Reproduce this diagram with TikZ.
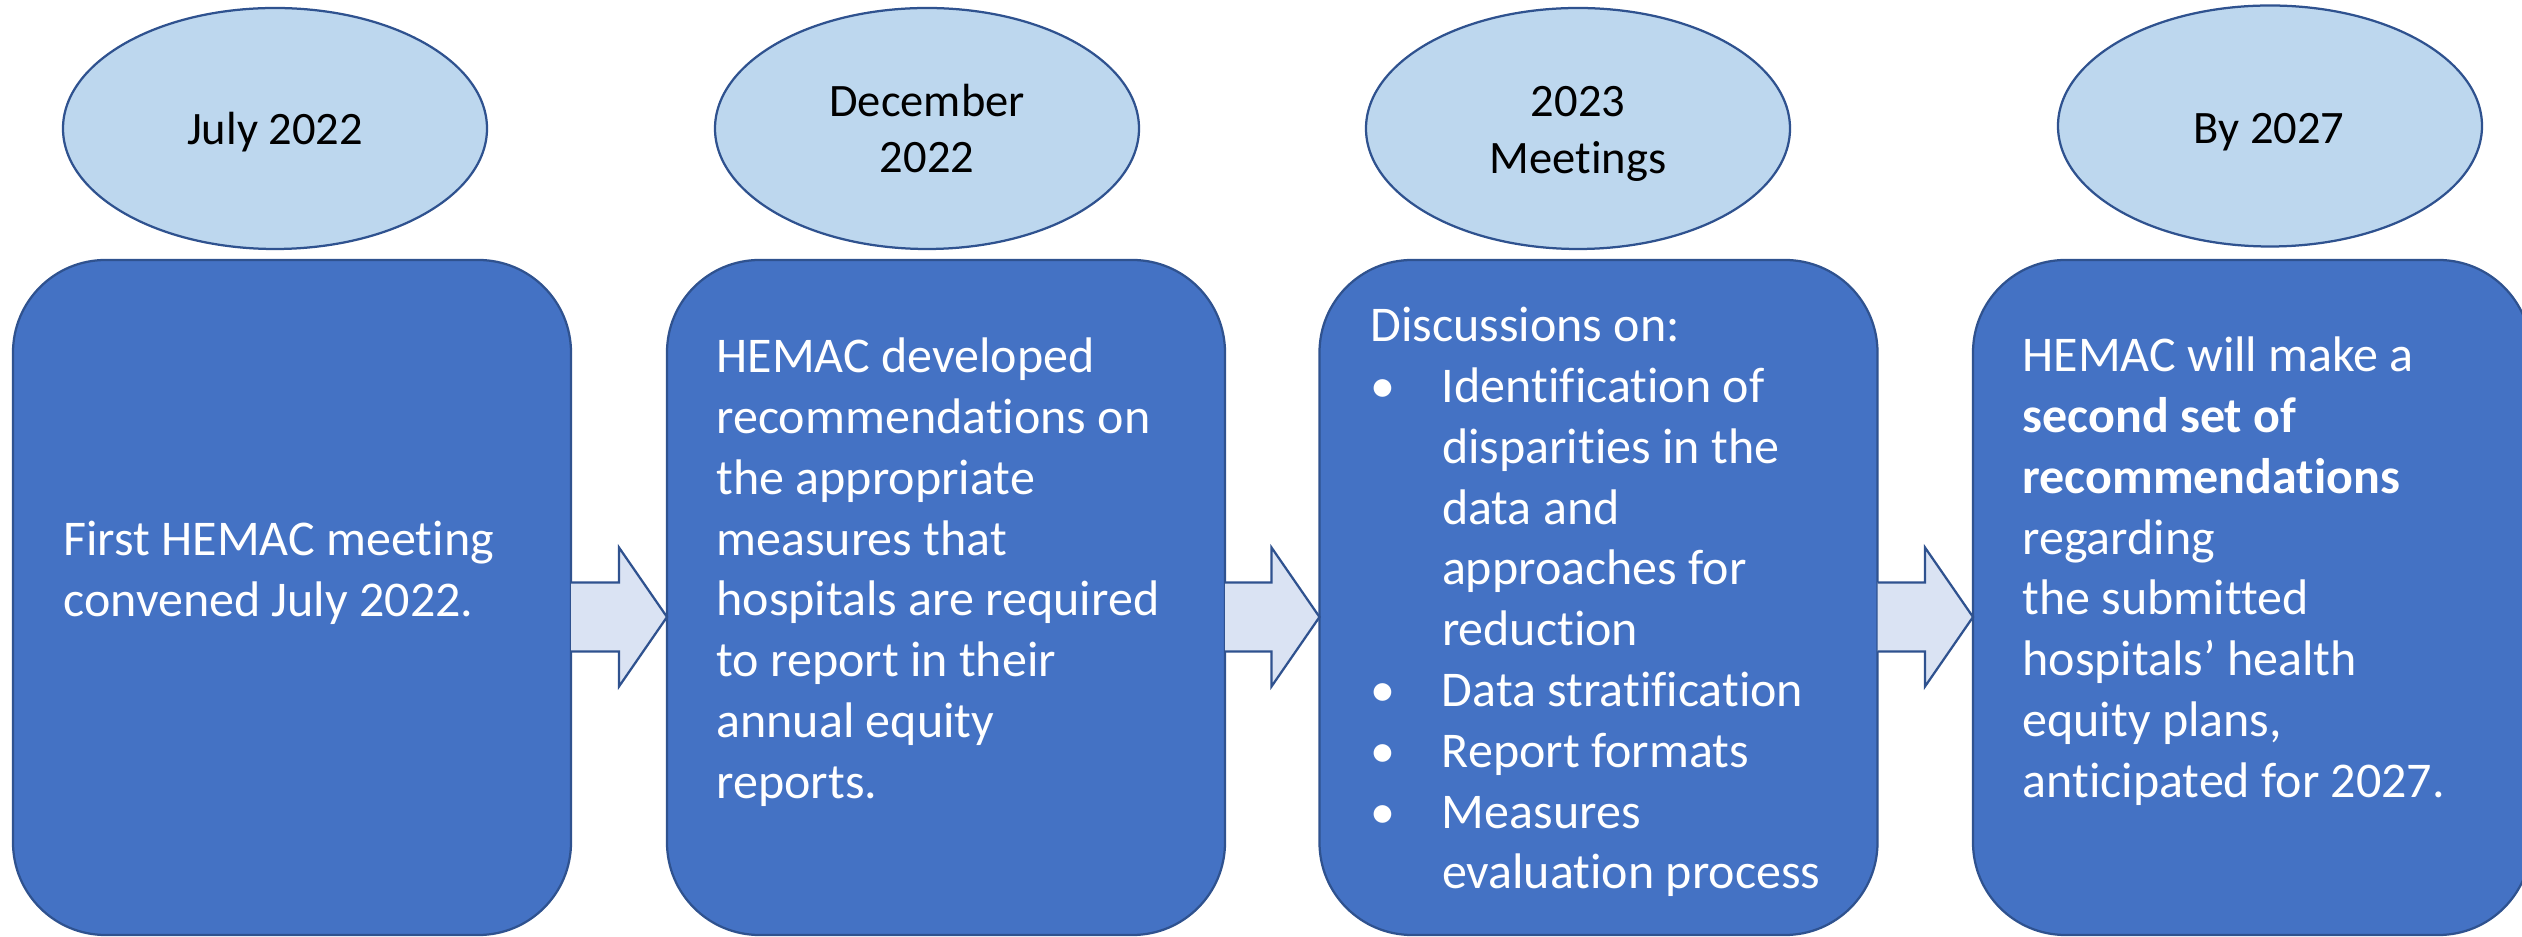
\documentclass[tikz,border=0pt]{standalone}
\usepackage{fontspec}
\setmainfont{Carlito}[Ligatures=NoCommon]
\usetikzlibrary{shapes.geometric,calc}
\definecolor{boxfill}{HTML}{4472C4}
\definecolor{edgeblue}{HTML}{2F528F}
\definecolor{ovalfill}{HTML}{BDD7EE}
\definecolor{arrowfill}{HTML}{DAE3F3}
\newcommand{\bodyfont}{\fontsize{20pt}{24.3pt}\selectfont}
\newcommand{\datefont}{\fontsize{18.6pt}{22.6pt}\selectfont}
\newcommand{\bul}{\makebox[28.6pt][l]{\textbullet}}
\newcommand{\ind}{\hspace*{28.6pt}}
% block arrow from the east side of box #1 to the west side of box #2
\newcommand{\flowarrow}[2]{%
  \fill[flow] ($(#1.east)+(0,-15)$) -- ($(#2.west)+(-48,-15)$) -- ($(#2.west)+(-48,-50)$)
    -- ($(#2.west)+(0,19.5)$) -- ($(#2.west)+(-48,89)$) -- ($(#2.west)+(-48,54)$)
    -- ($(#1.east)+(0,54)$) -- cycle;
  \draw[flowedge] ($(#1.east)+(0,-15)$) -- ($(#2.west)+(-48,-15)$) -- ($(#2.west)+(-48,-50)$)
    -- ($(#2.west)+(0,19.5)$) -- ($(#2.west)+(-48,89)$) -- ($(#2.west)+(-48,54)$)
    -- ($(#1.east)+(0,54)$);}
\begin{document}
\begin{tikzpicture}[x=0.4pt,y=-0.4pt,
  stepbox/.style={draw=edgeblue, line width=0.9pt, fill=boxfill, rounded corners=37pt,
    minimum width=223.2pt, minimum height=270pt, inner sep=0pt, outer sep=0pt},
  datebox/.style={ellipse, draw=edgeblue, line width=0.9pt, fill=ovalfill,
    minimum width=169.6pt, minimum height=96.4pt, inner sep=0pt, outer sep=0pt},
  bodytext/.style={anchor=base west, inner sep=0pt, text=white, font=\bodyfont},
  datetext/.style={anchor=base, inner sep=0pt, text=black, font=\datefont},
  flow/.style={fill=arrowfill},
  flowedge/.style={draw=edgeblue, line width=0.9pt, line join=miter}
]
\clip (0,0) rectangle (2522,937);

% date ovals
\node[datebox] (d1) at (275,128.5) {};
\node[datebox] (d2) at (927,128.5) {};
\node[datebox] (d3) at (1578,128.5) {};
\node[datebox] (d4) at (2270,126) {};
\node[datetext] (d1t) at (275,145) {\begin{tabular}[t]{@{}c@{}}July 2022\end{tabular}};
\node[datetext] (d2t) at (927,116.5) {\begin{tabular}[t]{@{}c@{}}December\\2022\end{tabular}};
\node[datetext] (d3t) at (1578,117) {\begin{tabular}[t]{@{}c@{}}2023\\Meetings\end{tabular}};
\node[datetext] (d4t) at (2269,143.5) {\begin{tabular}[t]{@{}c@{}}By 2027\end{tabular}};

% step boxes
\node[stepbox] (b1) at (292,597.5) {};
\node[stepbox] (b2) at (946,597.5) {};
\node[stepbox] (b3) at (1598.5,597.5) {};
\node[stepbox] (b4) at (2252,597.5) {};

\node[bodytext] (t1) at (63,556) {\begin{tabular}[t]{@{}l@{}}First HEMAC meeting\\convened July 2022.\end{tabular}};
\node[bodytext] (t2) at (716,373) {\begin{tabular}[t]{@{}l@{}}HEMAC developed\\recommendations on\\the appropriate\\measures that\\hospitals are required\\to report in their\\annual equity\\reports.\end{tabular}};
\node[bodytext] (t3) at (1370,342) {\begin{tabular}[t]{@{}l@{}}Discussions on:\\
\bul Identification of\\
\ind disparities in the\\
\ind data and\\
\ind approaches for\\
\ind reduction\\
\bul Data stratification\\
\bul Report formats\\
\bul Measures\\
\ind evaluation process\end{tabular}};
\node[bodytext] (t4) at (2022,372) {\begin{tabular}[t]{@{}l@{}}HEMAC will make a\\\textbf{second set of}\\\textbf{recommendations}\\regarding\\the submitted\\hospitals’ health\\equity plans,\\anticipated for 2027.\end{tabular}};

% block arrows
\flowarrow{b1}{b2}
\flowarrow{b2}{b3}
\flowarrow{b3}{b4}
\end{tikzpicture}
\end{document}
